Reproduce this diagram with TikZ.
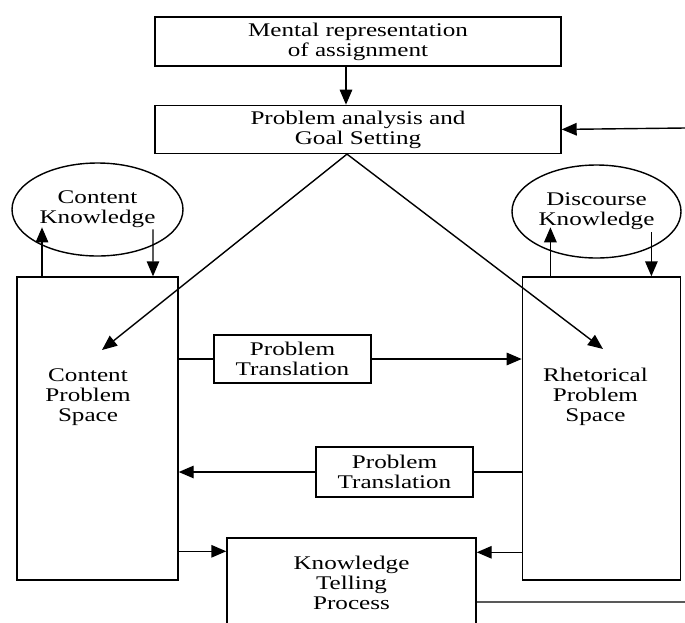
\documentclass[tikz,border=0pt]{standalone}
\usepackage{fontspec}
\setmainfont{Liberation Serif}[FakeStretch=1.3]
\usetikzlibrary{positioning,shapes.geometric,arrows.meta,calc}
\tikzset{
    box/.style={draw, line width=0.8pt, align=center, inner sep=2pt},
    knowledge/.style={draw, ellipse, line width=0.8pt, align=center, inner sep=1pt, minimum width=3.42cm, minimum height=1.86cm},
    space/.style={draw, line width=0.8pt, minimum width=3.22cm, minimum height=6.06cm},
    arr/.style={line width=0.8pt, -{Triangle[length=3mm,width=2.5mm]}},
    link/.style={line width=0.8pt}
}
\begin{document}
\begin{tikzpicture}[font=\fontsize{11}{11.4}\selectfont]
    \useasboundingbox (0,0) rectangle (13.7,-12.46);
    \clip (0,0) rectangle (13.7,-12.46);
    \node [box, minimum width=8.12cm, minimum height=0.98cm] (mental) at (7.16,-0.83) {Mental representation\\of assignment};
    \node [box, minimum width=8.12cm, minimum height=0.96cm, below=0.76cm of mental] (goal) {Problem analysis and\\Goal Setting};
    \node [knowledge] (content) at (1.95,-4.19) {Content\\Knowledge};
    \node [knowledge, minimum width=3.38cm] (discourse) at (11.93,-4.23) {Discourse\\Knowledge};
    \node [space] (cps) at (1.95,-8.57) {};
    \node [space, minimum width=3.16cm, right=6.86cm of cps] (rps) {};
    \node [align=center] (cpslabel) at ($(cps.center)+(-0.19,0.63)$) {Content\\Problem\\Space};
    \node [align=center] (rpslabel) at ($(rps.center)+(-0.12,0.63)$) {Rhetorical\\Problem\\Space};
    \node [box, minimum width=3.14cm, minimum height=0.96cm] (trans1) at (5.85,-7.18) {Problem\\Translation};
    \node [box, minimum width=3.14cm, minimum height=1cm] (trans2) at (7.89,-9.44) {Problem\\Translation};
    \node [box, minimum width=4.98cm, minimum height=1.8cm] (telling) at (7.03,-11.66) {Knowledge\\Telling\\Process};
    \coordinate (feedback) at (13.7,-2.56);
    \coordinate (return) at (13.7,-12.04);
    \coordinate (cpsgoal) at (2.04,-7.0);
    \coordinate (rpsgoal) at (12.06,-6.98);
    \draw [arr] ([xshift=-0.24cm]mental.south) -- ([xshift=-0.24cm]goal.north);
    \draw [arr] (feedback) -- (goal.east);
    \draw [arr] ([xshift=-0.22cm]goal.south) -- (cpsgoal);
    \draw [arr] ([xshift=-0.22cm]goal.south) -- (rpsgoal);
    \draw [arr] ([xshift=-1.11cm]cps.north) -- ++(0,0.98);
    \draw [arr] ([shift={(1.11,0.94)}]cps.north) -- ([xshift=1.11cm]cps.north);
    \draw [arr] ([xshift=-1.02cm]rps.north) -- ++(0,0.98);
    \draw [arr] ([shift={(1.0,0.88)}]rps.north) -- ([xshift=1.0cm]rps.north);
    \draw [link] (cps.east |- trans1.west) -- (trans1.west);
    \draw [arr] (trans1.east) -- (rps.west |- trans1.east);
    \draw [link] (rps.west |- trans2.east) -- (trans2.east);
    \draw [arr] (trans2.west) -- (cps.east |- trans2.west);
    \draw [arr] ($(cps.east |- telling.north)+(0,-0.28)$) -- ($(telling.north west)+(0,-0.28)$);
    \draw [arr] ($(rps.west |- telling.north)+(0,-0.3)$) -- ($(telling.north east)+(0,-0.3)$);
    \draw [link] ($(telling.east)+(0,-0.38)$) -- (return);
\end{tikzpicture}
\end{document}
